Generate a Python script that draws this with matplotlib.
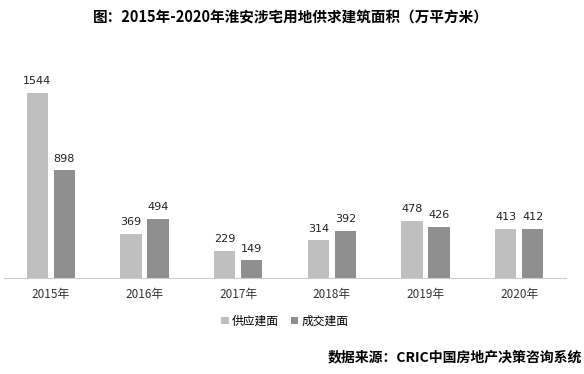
import numpy as np
import matplotlib
matplotlib.use("Agg")
import matplotlib.pyplot as plt

plt.rcParams['font.family'] = ['Noto Sans CJK SC', 'DejaVu Sans']

years = ["2015年", "2016年", "2017年", "2018年", "2019年", "2020年"]
supply = [1544, 369, 229, 314, 478, 413]
deal = [898, 494, 149, 392, 426, 412]
series_names = ["供应建面", "成交建面"]

c_supply = "#bfbfbf"
c_deal = "#8f8f8f"

fig = plt.figure(figsize=(5.84, 3.74), dpi=100)
ax = fig.add_axes([4 / 584, 1 - 278 / 374, 562 / 584, 190 / 374])

x = np.arange(len(years))
w = 0.225
off = 0.144
b1 = ax.bar(x - off, supply, w, color=c_supply, label=series_names[0])
b2 = ax.bar(x + off, deal, w, color=c_deal, label=series_names[1])

for bars, vals in ((b1, supply), (b2, deal)):
    for rect, v in zip(bars, vals):
        ax.text(rect.get_x() + rect.get_width() / 2, v + 55, str(v),
                ha="center", va="bottom", fontsize=8, color="#222222",
                family="DejaVu Sans")

ax.set_xlim(-0.5, 5.5)
ax.set_ylim(0, 1544 * 190 / 185)
ax.set_xticks(x)
ax.set_xticklabels(years, fontsize=8.5, color="#333333")
ax.tick_params(axis="x", length=0, pad=7)
ax.set_yticks([])
for s in ("top", "right", "left"):
    ax.spines[s].set_visible(False)
ax.spines["bottom"].set_color("#cccccc")

fig.legend(handles=[b1, b2], labels=series_names, loc="center",
           bbox_to_anchor=(285 / 584, 1 - 321 / 374), ncol=2, frameon=False,
           fontsize=8.5, handlelength=0.6, handleheight=0.6, handletextpad=0.3,
           columnspacing=1.0)

fig.text(291 / 584, 1 - 18 / 374, "图：2015年-2020年淮安涉宅用地供求建筑面积（万平方米）",
         ha="center", va="center", fontsize=10.5, fontweight="bold")
fig.text(582 / 584, 1 - 357 / 374, "数据来源：CRIC中国房地产决策咨询系统",
         ha="right", va="center", fontsize=10, fontweight="bold")

fig.savefig("out.png", dpi=100)
